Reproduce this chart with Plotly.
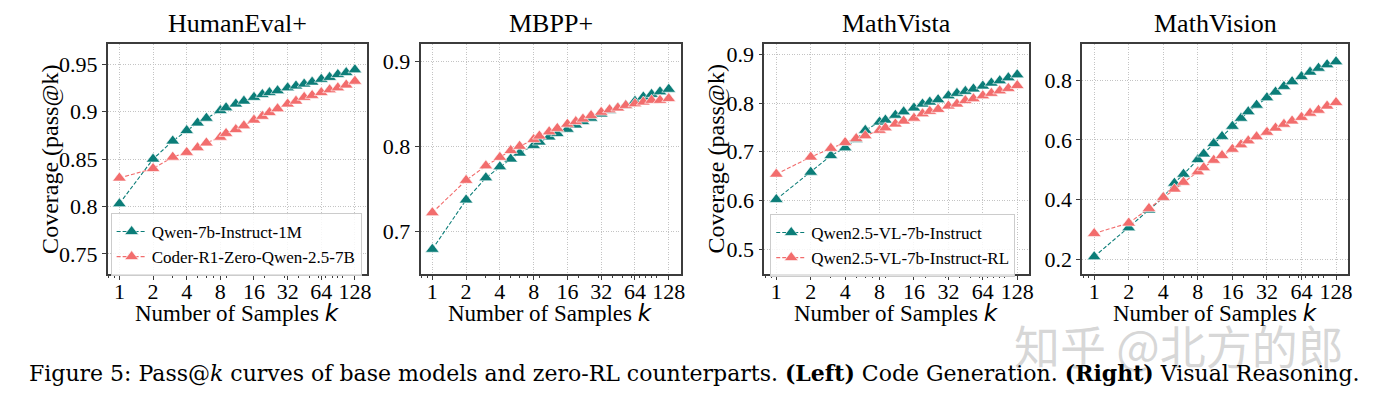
import math
import plotly.graph_objects as go

# ---------------- data ----------------
K = [1, 2, 3, 4, 5, 6, 8, 9, 11, 13, 16, 19, 22, 26, 32, 38, 45, 53, 64, 76, 90, 107, 128]
x_tick_vals = [1, 2, 4, 8, 16, 32, 64, 128]
x_tick_text = ["1", "2", "4", "8", "16", "32", "64", "128"]

titles = ["HumanEval+", "MBPP+", "MathVista", "MathVision"]

humaneval_base = [0.803, 0.850, 0.869, 0.880, 0.888, 0.893, 0.901, 0.904, 0.908, 0.911, 0.915, 0.918,
                  0.920, 0.922, 0.925, 0.927, 0.929, 0.931, 0.934, 0.936, 0.939, 0.941, 0.944]
humaneval_rl = [0.830, 0.840, 0.852, 0.857, 0.862, 0.867, 0.873, 0.877, 0.881, 0.885, 0.891, 0.895,
                0.899, 0.903, 0.908, 0.911, 0.915, 0.917, 0.920, 0.923, 0.925, 0.928, 0.932]

mbpp_base = [0.679, 0.737, 0.763, 0.776, 0.785, 0.792, 0.801, 0.805, 0.811, 0.815, 0.820, 0.825,
             0.829, 0.833, 0.838, 0.842, 0.845, 0.848, 0.853, 0.858, 0.861, 0.864, 0.867]
mbpp_rl = [0.722, 0.760, 0.777, 0.787, 0.795, 0.800, 0.808, 0.812, 0.817, 0.821, 0.826, 0.829,
           0.832, 0.836, 0.840, 0.843, 0.845, 0.848, 0.850, 0.852, 0.854, 0.854, 0.856]

mathvista_base = [0.602, 0.658, 0.692, 0.708, 0.725, 0.744, 0.761, 0.765, 0.775, 0.782, 0.790, 0.798,
                  0.802, 0.807, 0.815, 0.820, 0.824, 0.829, 0.835, 0.841, 0.846, 0.852, 0.858]
mathvista_rl = [0.654, 0.689, 0.707, 0.719, 0.727, 0.733, 0.744, 0.749, 0.757, 0.763, 0.769, 0.778,
                0.783, 0.787, 0.794, 0.798, 0.805, 0.809, 0.815, 0.820, 0.825, 0.830, 0.836]

mathvision_base = [0.208, 0.305, 0.365, 0.407, 0.455, 0.485, 0.534, 0.553, 0.588, 0.612, 0.646, 0.673,
                   0.695, 0.717, 0.742, 0.761, 0.780, 0.796, 0.813, 0.828, 0.841, 0.853, 0.863]
mathvision_rl = [0.286, 0.321, 0.370, 0.407, 0.435, 0.458, 0.493, 0.507, 0.532, 0.548, 0.569, 0.584,
                 0.597, 0.611, 0.626, 0.640, 0.653, 0.664, 0.676, 0.690, 0.700, 0.714, 0.726]

code_names = ["Qwen-7b-Instruct-1M", "Coder-R1-Zero-Qwen-2.5-7B"]
visual_names = ["Qwen2.5-VL-7b-Instruct", "Qwen2.5-VL-7b-Instruct-RL"]

y_ticks = [
    [0.75, 0.8, 0.85, 0.9, 0.95],
    [0.7, 0.8, 0.9],
    [0.5, 0.6, 0.7, 0.8, 0.9],
    [0.2, 0.4, 0.6, 0.8],
]
y_ranges = [[0.729, 0.971], [0.65, 0.92], [0.449, 0.921], [0.15, 0.922]]

caption = ("Figure 5: Pass@<i>k</i> curves of base models and zero-RL counterparts. "
           "<b>(Left)</b> Code Generation. <b>(Right)</b> Visual Reasoning.")
watermark = "知乎 @北方的郎"

# ---------------- styling ----------------
WIN_W, WIN_H = 1390, 397
OFF = 8  # default page body margin
W, H = WIN_W - OFF, WIN_H - OFF
TEAL = "#0b7d78"
RED = "#f26d6d"
SERIF = "Liberation Serif"
SPINE = "#3c3c3c"
GRID = "#c4c4c4"

# panel boxes in window pixels (left, right), shared top/bottom
panels_px = [(108, 368), (422, 683), (767, 1033), (1086, 1353)]
top_px, bot_px = 42.3, 273.3

def px_x(v):
    return (v - OFF) / W

def px_y(v):
    return 1 - (v - OFF) / H

series = [
    (humaneval_base, humaneval_rl, code_names, "legend"),
    (mbpp_base, mbpp_rl, code_names, None),
    (mathvista_base, mathvista_rl, visual_names, "legend2"),
    (mathvision_base, mathvision_rl, visual_names, None),
]

fig = go.Figure()
lo = -0.35 * math.log10(2)
hi = math.log10(128) + 0.35 * math.log10(2)
minor_vals = [0.8, 0.9, 3, 5, 6, 7, 9, 20, 30, 40, 50, 60, 70, 80, 90, 100]

for i, (base, rl, names, leg) in enumerate(series):
    xa = "x" if i == 0 else f"x{i+1}"
    ya = "y" if i == 0 else f"y{i+1}"
    for vals, color, name in [(base, TEAL, names[0]), (rl, RED, names[1])]:
        fig.add_trace(go.Scatter(
            x=K, y=vals, xaxis=xa, yaxis=ya, mode="lines+markers", name=name,
            line=dict(color=color, width=1.1, dash="4px,2px"),
            marker=dict(symbol="triangle-up", size=12, color=color,
                        line=dict(color="white", width=0.6)),
            showlegend=leg is not None,
            legend=leg if leg is not None else "legend",
        ))
    l, r = panels_px[i]
    xkey = "xaxis" if i == 0 else f"xaxis{i+1}"
    ykey = "yaxis" if i == 0 else f"yaxis{i+1}"
    fig.update_layout({
        xkey: dict(
            domain=[px_x(l), px_x(r)], anchor=ya, type="log", range=[lo, hi],
            tickvals=x_tick_vals, ticktext=x_tick_text,
            ticks="outside", ticklen=4, tickwidth=1, tickcolor=SPINE,
            ticklabelstandoff=-7,
            showline=True, mirror=True, linecolor=SPINE, linewidth=1.5,
            showgrid=True, gridcolor=GRID, griddash="1px,1.5px", gridwidth=1,
            tickfont=dict(family=SERIF, size=22, color="black"),
            minor=dict(tickvals=minor_vals, ticks="outside", ticklen=2,
                       tickcolor=SPINE, showgrid=False),
            zeroline=False, fixedrange=True,
        ),
        ykey: dict(
            domain=[px_y(bot_px), px_y(top_px)], anchor=xa, range=y_ranges[i],
            tickvals=y_ticks[i], ticktext=[f"{v:g}" for v in y_ticks[i]],
            ticks="outside", ticklen=4, tickwidth=1, tickcolor=SPINE,
            showline=True, mirror=True, linecolor=SPINE, linewidth=1.5,
            showgrid=True, gridcolor=GRID, griddash="1px,1.5px", gridwidth=1,
            tickfont=dict(family=SERIF, size=22, color="black"),
            zeroline=False, fixedrange=True,
        ),
    })

annotations = []
for i, t in enumerate(titles):
    l, r = panels_px[i]
    annotations.append(dict(
        text=t, x=px_x((l + r) / 2), y=px_y(22), xref="paper", yref="paper",
        xanchor="center", yanchor="middle", showarrow=False,
        font=dict(family=SERIF, size=26, color="black")))
    annotations.append(dict(
        text="Number of Samples <i><span style='font-family:DejaVu Sans'>k</span></i>",
        x=px_x((l + r) / 2), y=px_y(313), xref="paper", yref="paper",
        xanchor="center", yanchor="middle", showarrow=False,
        font=dict(family=SERIF, size=23, color="black")))

for xc in [50, 719]:
    annotations.append(dict(
        text="Coverage (pass@k)", x=px_x(xc), y=px_y((top_px + bot_px) / 2),
        xref="paper", yref="paper", xanchor="center", yanchor="middle",
        textangle=-90, showarrow=False,
        font=dict(family=SERIF, size=24, color="black")))

annotations.append(dict(
    text=watermark, x=px_x(1183), y=px_y(344), xref="paper", yref="paper",
    xanchor="center", yanchor="middle", showarrow=False,
    font=dict(family="Noto Sans CJK SC", size=46, color="rgba(175,175,175,0.5)")))

annotations.append(dict(
    text=caption, x=px_x(697), y=px_y(373), xref="paper", yref="paper",
    xanchor="center", yanchor="middle", showarrow=False,
    font=dict(family="DejaVu Serif", size=22, color="black")))

legend_style = dict(
    bgcolor="rgba(255,255,255,0.85)", bordercolor="#cccccc", borderwidth=1,
    font=dict(family=SERIF, size=17, color="black"),
    xanchor="left", yanchor="top", itemwidth=30, tracegroupgap=0,
)

fig.update_layout(
    width=W, height=H, margin=dict(l=0, r=0, t=0, b=0),
    paper_bgcolor="white", plot_bgcolor="white",
    showlegend=True,
    legend=dict(x=px_x(111), y=px_y(212), **legend_style),
    legend2=dict(x=px_x(773), y=px_y(213), **legend_style),
    annotations=annotations,
)

fig.write_html("out.html")
